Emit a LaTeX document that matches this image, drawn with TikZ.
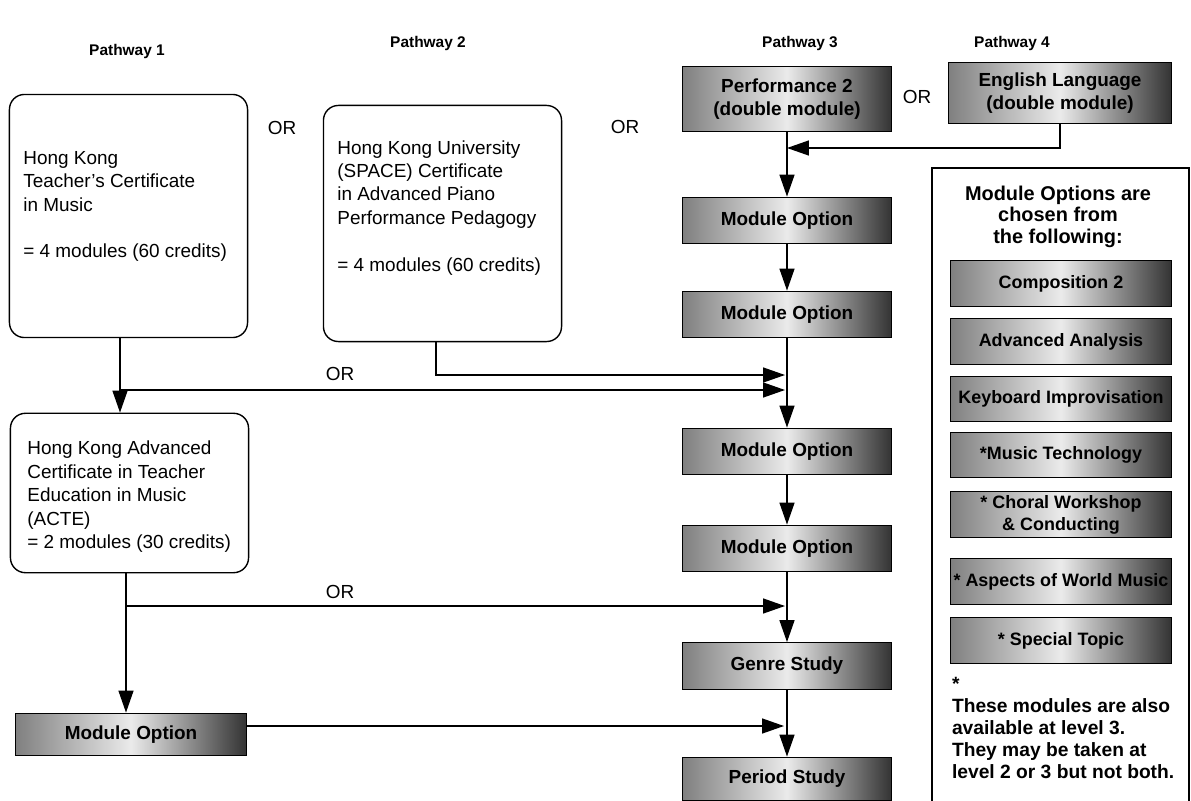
\documentclass[tikz,border=0pt]{standalone}
\usepackage{fontspec}
\setmainfont{Liberation Sans}
\usetikzlibrary{positioning,arrows.meta}

% text block of a certificate box: height, width, indent, top space, lines
\newcommand{\certtext}[5]{\parbox[c][#1][t]{#2}{\raggedright\leftskip=#3\hyphenpenalty=10000\vspace*{#4}#5}}

\begin{document}
\begin{tikzpicture}[
    x=1bp, y=-1bp,
    line width=1.4pt,
    head/.style    ={font=\fontsize{15.5}{18}\selectfont\bfseries},
    orlbl/.style   ={font=\fontsize{19}{22}\selectfont},
    certbox/.style ={draw,rounded corners=15pt,inner sep=0pt,
                     font=\fontsize{19}{23.5}\selectfont},
    modbox/.style  ={draw=black,line width=1pt,left color=black!50,right color=black!80,
                     middle color=black!8,minimum width=210pt,minimum height=47pt,
                     inner sep=0pt,align=center,font=\fontsize{19}{23}\selectfont\bfseries},
    optbox/.style  ={modbox,minimum width=222pt,minimum height=46pt,
                     font=\fontsize{18}{22}\selectfont\bfseries},
    pass/.style    ={-{Triangle[length=22pt,width=15pt]},line width=1.4pt}
]
\useasboundingbox (0,0) rectangle (1191,801);

% column headings
\node[head] (h1) at (127,52) {Pathway 1};
\node[head] (h2) at (428,44) {Pathway 2};
\node[head] (h3) at (800,44) {Pathway 3};
\node[head] (h4) at (1012,44) {Pathway 4};

% certificates
\node[certbox] (tcm) at (128.5,216)
    {\certtext{244pt}{239pt}{14pt}{57pt}{Hong Kong\\Teacher's Certificate\\in Music\\[23.5pt]= 4 modules (60 credits)}};
\node[certbox] (space) at (442.5,223.5)
    {\certtext{237pt}{239pt}{14pt}{35pt}{Hong Kong University\\(SPACE) Certificate\\in Advanced Piano\\Performance Pedagogy\\[23.5pt]= 4 modules (60 credits)}};
\node[certbox] (acte) at (129.5,493)
    {\certtext{160pt}{239pt}{17pt}{28pt}{Hong Kong Advanced\\Certificate in Teacher\\Education in Music\\(ACTE)\\= 2 modules (30 credits)}};

\node[orlbl] (or12) at (282,128) {OR};
\node[orlbl] (or23) at (625,127) {OR};
\node[orlbl] (or34) at (917,97)  {OR};
\node[orlbl] (orsp) at (340,374) {OR};
\node[orlbl] (orac) at (340,592) {OR};

% pathway 3 column
\node[modbox, minimum height=66pt] (perf) at (787,99) {Performance 2\\(double module)};
\node[modbox, minimum width=224pt, minimum height=62pt] (eng) at (1060,93) {English Language\\(double module)};
\node[modbox] (mo1)   at (787,220.5) {Module Option};
\node[modbox] (mo2)   at (787,314.5) {Module Option};
\node[modbox] (mo3)   at (787,451.5) {Module Option};
\node[modbox] (mo4)   at (787,548.5) {Module Option};
\node[modbox] (genre) at (787,666)   {Genre Study};
\node[modbox, minimum height=44pt] (period) at (787,779) {Period Study};
\node[modbox, minimum width=232pt, minimum height=43pt] (mo0) at (131,734.5) {Module Option};

% module options panel
\draw[line width=1.6pt] (932,803) |- (1189,168) -- (1189,803);
\node[font=\fontsize{20}{21.5}\selectfont\bfseries, align=center] (opthead) at (1058,216.5)
    {Module Options are\\chosen from\\the following:};
\node[optbox] (comp)   at (1061,283.5) {Composition 2};
\node[optbox] (adv)    at (1061,341.5) {Advanced Analysis};
\node[optbox] (kbd)    at (1061,399)   {Keyboard Improvisation};
\node[optbox] (tech)   at (1061,455)   {*Music Technology};
\node[optbox] (choral) at (1061,514.5) {* Choral Workshop\\\& Conducting};
\node[optbox] (world)  at (1061,581.5) {* Aspects of World Music};
\node[optbox] (topic)  at (1061,640.5) {* Special Topic};
\node[font=\fontsize{19.3}{22}\selectfont\bfseries, align=left, anchor=west] (note) at (948,728)
    {*\\These modules are also\\available at level 3.\\They may be taken at\\level 2 or 3 but not both.};

% junctions
\coordinate (tcmjoin)  at (120,390);
\coordinate (spjoin)   at (436,375);
\coordinate (actejoin) at (126,606);
\coordinate (engjoin)  at (1058,148);
\coordinate (mo0join)  at (787,726);

\draw[pass] (eng) |- (engjoin -| perf.south);
\draw[pass] (perf) -- (mo1);
\draw[pass] (mo1) -- (mo2);
\draw[pass] (mo2) -- (mo3);
\draw[pass] (mo3) -- (mo4);
\draw[pass] (mo4) -- (genre);
\draw[pass] (genre) -- (period);

\draw[pass] (tcm.south -| tcmjoin) -- (acte.north -| tcmjoin);
\draw[pass, shorten >=2pt] (tcmjoin) -- (tcmjoin -| mo2.south);
\draw[pass, shorten >=2pt] (space.south -| spjoin) |- (mo2.south |- spjoin);
\draw[pass] (acte.south -| actejoin) -- (mo0.north -| actejoin);
\draw[pass, shorten >=2pt] (actejoin) -- (actejoin -| mo4.south);
\draw[pass, shorten >=3pt] (mo0.east |- mo0join) -- (mo0join);

\end{tikzpicture}
\end{document}
